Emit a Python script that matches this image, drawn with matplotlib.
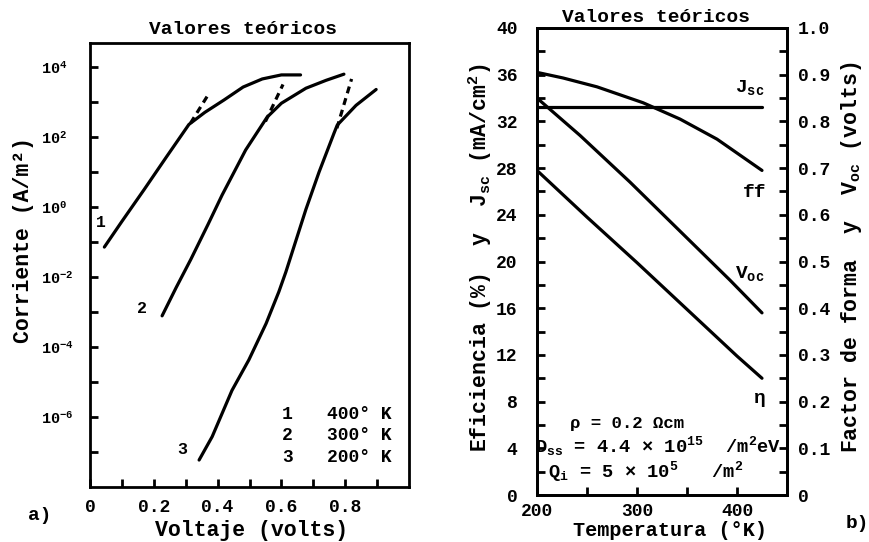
import numpy as np
import matplotlib
matplotlib.use("Agg")
import matplotlib.pyplot as plt
from matplotlib.ticker import FixedLocator, FixedFormatter, NullFormatter

plt.rcParams['font.family'] = ['Liberation Mono', 'DejaVu Sans']
plt.rcParams['font.weight'] = 'bold'
plt.rcParams['axes.labelweight'] = 'bold'
plt.rcParams['mathtext.fontset'] = 'custom'
plt.rcParams['mathtext.rm'] = 'Liberation Mono:bold'
plt.rcParams['mathtext.it'] = 'Liberation Mono:bold'
plt.rcParams['mathtext.bf'] = 'Liberation Mono:bold'
plt.rcParams['axes.linewidth'] = 2.0

# ---------------- a) current density vs. voltage ----------------
# curve 1: 400 K
volt_400 = [0.045, 0.10, 0.17, 0.24, 0.31, 0.36, 0.42, 0.48, 0.54, 0.60, 0.66]
curr_400 = [7.2e-2, 3.9e-1, 3.2e0, 2.75e1, 2.3e2, 5.1e2, 1.15e3, 2.7e3, 4.6e3, 6.0e3, 6.0e3]
# curve 2: 300 K
volt_300 = [0.226, 0.27, 0.316, 0.37, 0.414, 0.488, 0.555, 0.60, 0.677, 0.74, 0.796]
curr_300 = [7.8e-4, 5.0e-3, 3.2e-2, 3.2e-1, 2.2e0, 4.3e1, 3.7e2, 9.3e2, 2.5e3, 4.2e3, 6.3e3]
# curve 3: 200 K
volt_200 = [0.342, 0.383, 0.445, 0.498, 0.552, 0.592, 0.614, 0.677, 0.718, 0.765, 0.775, 0.834, 0.897]
curr_200 = [5.9e-8, 2.75e-7, 5.75e-6, 4.3e-5, 4.7e-4, 3.8e-3, 1.4e-2, 8.7e-1, 1.0e1, 1.3e2, 2.2e2, 8.1e2, 2.3e3]
# dashed extrapolations of the exponential region
dash_volt = [[0.315, 0.37], [0.55, 0.605], [0.774, 0.82]]
dash_curr = [[2.5e2, 1.6e3], [2.8e2, 3.2e3], [1.8e2, 4.6e3]]

curve_ids = ["1", "2", "3"]
curve_temps = ["400° K", "300° K", "200° K"]

volt_ticks = [0, 0.2, 0.4, 0.6, 0.8]
volt_ticklabels = ["0", "0.2", "0.4", "0.6", "0.8"]
volt_minor = [0.1, 0.3, 0.5, 0.7, 0.9]
curr_ticks = [1e-6, 1e-4, 1e-2, 1e0, 1e2, 1e4]
curr_ticklabels = [r"$10^{-6}$", r"$10^{-4}$", r"$10^{-2}$", r"$10^{0}$", r"$10^{2}$", r"$10^{4}$"]
curr_minor = [1e-7, 1e-5, 1e-3, 1e-1, 1e1, 1e3]

# ---------------- b) cell parameters vs. temperature ----------------
temp_ff = [200, 226, 260, 306, 343, 380, 425]
fill_factor = [0.905, 0.893, 0.874, 0.84, 0.805, 0.762, 0.695]
temp_jsc = [200, 425]
jsc = [33.25, 33.25]
temp_voc = [200, 243, 293, 343, 393, 425]
voc = [0.85, 0.77, 0.67, 0.565, 0.46, 0.39]
temp_eta = [200, 250, 300, 350, 400, 425]
eta = [27.8, 23.8, 19.9, 15.9, 11.9, 10.0]

temp_ticks = [200, 300, 400]
temp_minor = [250, 350]
left_ticks = list(range(0, 41, 4))
left_minor = list(range(2, 40, 4))
right_ticks = [0, 0.1, 0.2, 0.3, 0.4, 0.5, 0.6, 0.7, 0.8, 0.9, 1.0]
right_ticklabels = ["0", "0.1", "0.2", "0.3", "0.4", "0.5", "0.6", "0.7", "0.8", "0.9", "1.0"]
right_minor = [0.05, 0.15, 0.25, 0.35, 0.45, 0.55, 0.65, 0.75, 0.85, 0.95]

W, H = 869, 542
fig = plt.figure(figsize=(W / 100, H / 100), dpi=100)

def px_axes(l, r, t, b):
    return fig.add_axes([l / W, 1 - b / H, (r - l) / W, (b - t) / H])

LW = 2.3
TICKFS = 13

# ---- panel a ----
ax1 = px_axes(90, 409, 43, 487)
ax1.set_yscale('log')
ax1.set_xlim(0, 1.0)
ax1.set_ylim(1e-8, 4.9e4)
for v, j in [(volt_400, curr_400), (volt_300, curr_300), (volt_200, curr_200)]:
    ax1.plot(v, j, color='k', lw=LW, solid_capstyle='round', solid_joinstyle='round')
for v, j in zip(dash_volt, dash_curr):
    ax1.plot(v, j, color='k', lw=LW, linestyle=(0, (2.2, 1.6)))

ax1.yaxis.set_major_locator(FixedLocator(curr_ticks))
ax1.yaxis.set_major_formatter(FixedFormatter(curr_ticklabels))
ax1.yaxis.set_minor_locator(FixedLocator(curr_minor))
ax1.yaxis.set_minor_formatter(NullFormatter())
ax1.xaxis.set_major_locator(FixedLocator(volt_ticks))
ax1.xaxis.set_major_formatter(FixedFormatter(volt_ticklabels))
ax1.xaxis.set_minor_locator(FixedLocator(volt_minor))
ax1.tick_params(axis='both', which='both', direction='in', length=6, width=2,
                top=False, right=False)
ax1.tick_params(axis='y', which='major', pad=35, labelsize=11)
ax1.tick_params(axis='x', which='major', pad=9, labelsize=TICKFS)
for tk in ax1.yaxis.get_major_ticks():
    tk.label1.set_horizontalalignment('left')

ax1.text(0.034, 0.37, curve_ids[0], fontsize=12, ha='center', va='center')
ax1.text(0.163, 1.26e-3, curve_ids[1], fontsize=12, ha='center', va='center')
ax1.text(0.288, 1.2e-7, curve_ids[2], fontsize=12, ha='center', va='center')
for k, yy in enumerate([0.164, 0.115, 0.067]):
    ax1.text(0.618, yy, curve_ids[k], transform=ax1.transAxes, fontsize=13,
             ha='center', va='center')
    ax1.text(0.742, yy, curve_temps[k], transform=ax1.transAxes, fontsize=13,
             ha='left', va='center')

ax1.set_ylabel("Corriente (A/m²)", fontsize=15.5, va='center')
ax1.yaxis.set_label_coords(-0.207, 0.556)
ax1.set_xlabel("Voltaje (volts)", fontsize=15.5, va='center')
ax1.xaxis.set_label_coords(0.508, -0.098)

# ---- panel b ----
ax2 = px_axes(537, 787, 28, 495)
ax2.set_xlim(200, 450)
ax2.set_ylim(0, 40)
ax2r = ax2.twinx()
ax2r.set_ylim(0, 1.0)

ax2.plot(temp_jsc, jsc, color='k', lw=LW, solid_capstyle='round')
ax2.plot(temp_eta, eta, color='k', lw=LW, solid_capstyle='round')
ax2r.plot(temp_ff, fill_factor, color='k', lw=LW, solid_capstyle='round',
          solid_joinstyle='round')
ax2r.plot(temp_voc, voc, color='k', lw=LW, solid_capstyle='round',
          solid_joinstyle='round')

ax2.xaxis.set_major_locator(FixedLocator(temp_ticks))
ax2.xaxis.set_minor_locator(FixedLocator(temp_minor))
ax2.yaxis.set_major_locator(FixedLocator(left_ticks))
ax2.yaxis.set_minor_locator(FixedLocator(left_minor))
ax2r.yaxis.set_major_locator(FixedLocator(right_ticks))
ax2r.yaxis.set_major_formatter(FixedFormatter(right_ticklabels))
ax2r.yaxis.set_minor_locator(FixedLocator(right_minor))
ax2.tick_params(axis='both', which='both', direction='in', length=6, width=2,
                top=False, right=False)
ax2.tick_params(axis='y', which='major', pad=14, labelsize=TICKFS)
ax2.tick_params(axis='x', which='major', pad=6, labelsize=TICKFS)
ax2r.tick_params(axis='y', which='both', direction='in', length=6, width=2,
                 left=False, right=True)
ax2r.tick_params(axis='y', which='major', pad=8, labelsize=TICKFS)
for a in (ax1, ax2, ax2r):
    for s in a.spines.values():
        s.set_linewidth(2.0)

ax2.text(413, 34.9, r"J$_{sc}$", fontsize=14, ha='center', va='center')
ax2.text(418, 25.9, "ff", fontsize=14, ha='center', va='center')
ax2.text(413, 19.0, r"V$_{oc}$", fontsize=14, ha='center', va='center')
ax2.text(423, 8.3, "η", fontsize=14, ha='center', va='center')
ax2.text(233, 6.1, "ρ = 0.2 Ωcm", fontsize=12.5, ha='left', va='center')
ax2.text(198, 4.2, r"D$_{ss}$ = 4.4 × 10$^{15}$  /m$^{2}$eV", fontsize=13.5,
         ha='left', va='center')
ax2.text(211, 2.0, r"Q$_{i}$ = 5 × 10$^{5}$   /m$^{2}$", fontsize=13.5,
         ha='left', va='center')

ax2.set_ylabel(r"Eficiencia (%)  y  J$_{sc}$ (mA/cm$^{2}$)", fontsize=15.5, va='center')
ax2.yaxis.set_label_coords(-0.228, 0.507)
ax2r.set_ylabel(r"Factor de forma  y  V$_{oc}$ (volts)", fontsize=15.5, va='center')
ax2r.yaxis.set_label_coords(1.26, 0.51)
ax2.set_xlabel("Temperatura (°K)", fontsize=14.5, va='center')
ax2.xaxis.set_label_coords(0.532, -0.076)

fig.text(243 / W, 1 - 30 / H, "Valores teóricos", fontsize=14, ha='center', va='center')
fig.text(656 / W, 1 - 18 / H, "Valores teóricos", fontsize=14, ha='center', va='center')
fig.text(40 / W, 1 - 515 / H, "a)", fontsize=14, ha='center', va='center')
fig.text(857 / W, 1 - 524 / H, "b)", fontsize=14, ha='center', va='center')

fig.savefig("out.png", dpi=100)
